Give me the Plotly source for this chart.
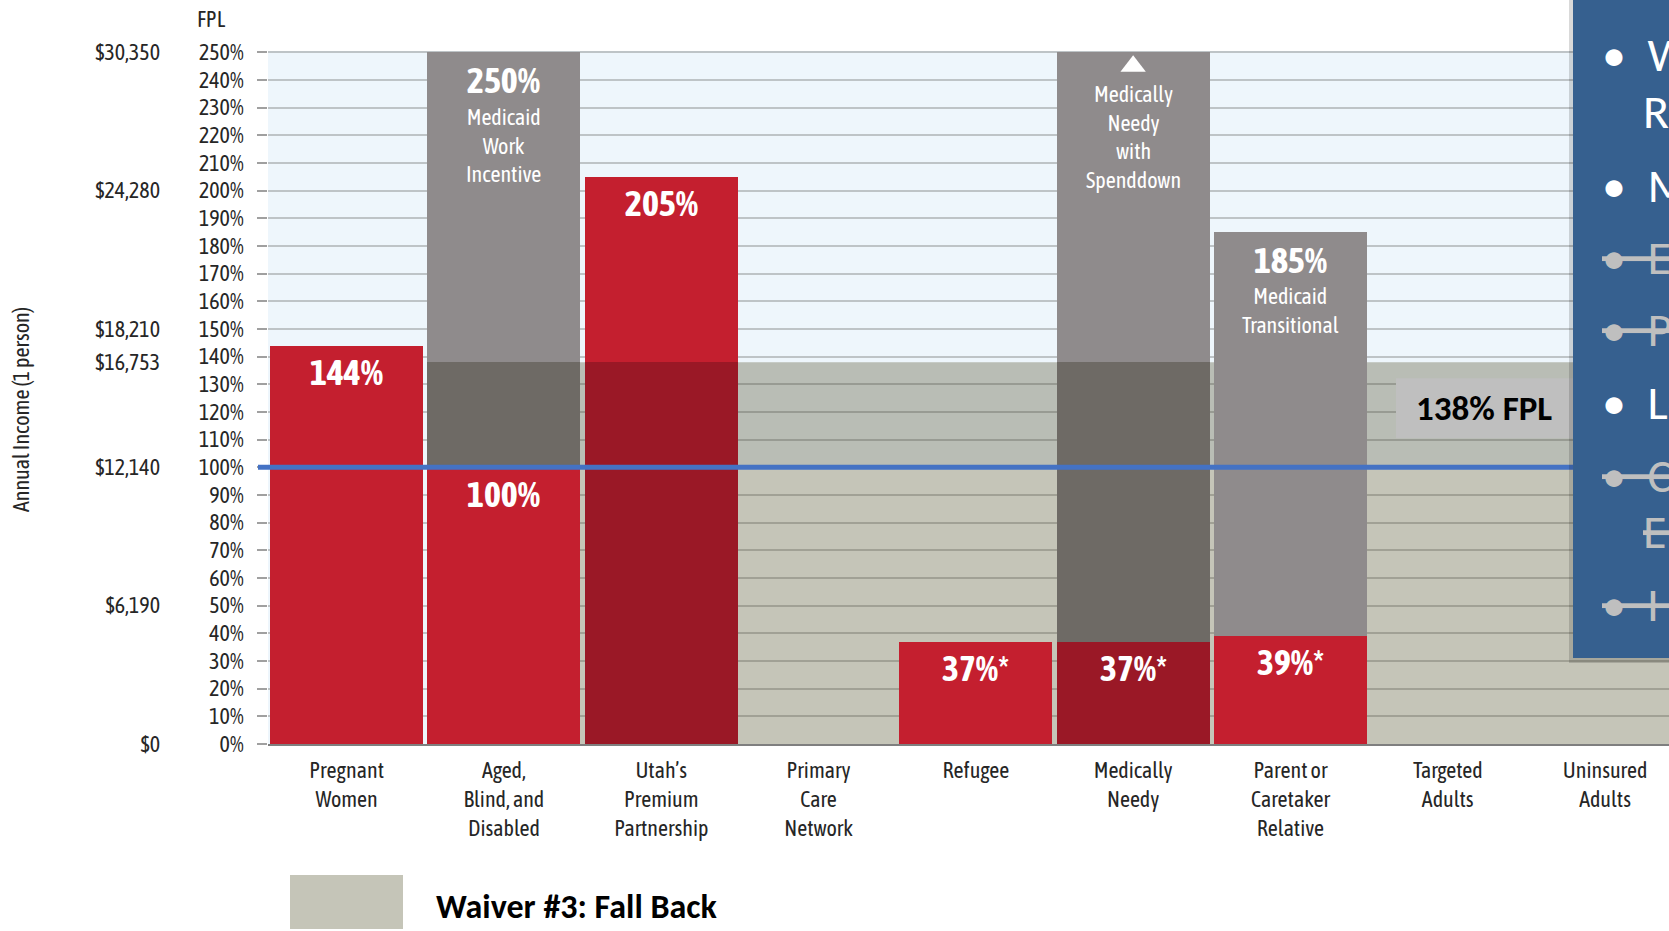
import plotly.graph_objects as go

# ---------------- data ----------------
categories = ["Pregnant<br>Women", "Aged,<br>Blind, and<br>Disabled", "Utah’s<br>Premium<br>Partnership",
              "Primary<br>Care<br>Network", "Refugee", "Medically<br>Needy",
              "Parent or<br>Caretaker<br>Relative", "Targeted<br>Adults", "Uninsured<br>Adults"]
medicaid_pct = [144, 100, 205, 0, 37, 37, 39, 0, 0]        # red bars
extended_pct = [0, 250, 0, 0, 0, 250, 185, 0, 0]           # grey bars
red_labels = ["144%", "100%", "205%", "", "37%*", "37%*", "39%*", "", ""]
gray_labels = ["", "250%", "", "", "", "", "185%", "", ""]
gray_notes = ["", "Medicaid<br>Work<br>Incentive", "", "", "", "Medically<br>Needy<br>with<br>Spenddown",
              "Medicaid<br>Transitional", "", ""]
open_ended = [False, False, False, False, False, True, False, False, False]
shaded_red = [False, False, True, False, False, True, False, False, False]
shaded_gray = [False, True, False, False, False, True, False, False, False]
fallback_pct = 138
fpl_line_pct = 100
fpl_ticks = list(range(0, 260, 10))
income_ticks = [0, 50, 100, 138, 150, 200, 250]
income_labels = ["$0", "$6,190", "$12,140", "$16,753", "$18,210", "$24,280", "$30,350"]
legend_label = "Waiver #3: Fall Back"
fpl_box_label = "138% FPL"
panel_rows = [("•", "W", False), ("", "Re", False), ("•", "M", False), ("•", "En", True),
              ("•", "Pe", True), ("•", "Lo", False), ("•", "Co", True), ("", "El", True), ("•", "He", True)]

# ---------------- styles ----------------
RED = "#C41F2F"
DARK_RED = "#9A1826"
GRAY = "#8F8B8C"
DARK_GRAY = "#6E6A65"
BLUE_BG = "#EEF6FC"
BEIGE = "#C5C5B8"
BEIGE_DARK = "#B9BDB5"
LINE_BLUE = "#4472C4"
PANEL = "#36608F"
NARROW = "Asap Condensed, Barlow Condensed, Archivo Narrow, sans-serif"
CAL = "Carlito, Lato, Open Sans, sans-serif"
TXT = "#262626"

W, H = 1669, 931
L, T, B = 268, 51, 187
PW, PH = W - L, H - T - B
BAR_W = 0.973
n = len(categories)
XMAX = -0.5 + PW / 157.3


def px_x(px):
    return (px - L) / PW


def px_y(py):
    return (H - B - py) / PH


# ---------------- segments ----------------
red_low_h, red_low_c, red_hi_b, red_hi_h = [], [], [], []
gr_low_b, gr_low_h, gr_low_c, gr_hi_b, gr_hi_h = [], [], [], [], []
for i in range(n):
    r, g = medicaid_pct[i], extended_pct[i]
    red_low_h.append(min(r, fallback_pct))
    red_low_c.append(DARK_RED if shaded_red[i] else RED)
    red_hi_b.append(fallback_pct)
    red_hi_h.append(max(r - fallback_pct, 0))
    gr_low_b.append(r)
    gr_low_h.append(max(min(g, fallback_pct) - r, 0) if g > r else 0)
    gr_low_c.append(DARK_GRAY if shaded_gray[i] else GRAY)
    gr_hi_b.append(max(r, fallback_pct))
    gr_hi_h.append(max(g - max(r, fallback_pct), 0))

fig = go.Figure()
common = dict(x=categories, width=BAR_W, marker_line_width=0, hoverinfo="skip", showlegend=False)
fig.add_trace(go.Bar(y=red_low_h, base=[0] * n, marker_color=red_low_c, **common))
fig.add_trace(go.Bar(y=red_hi_h, base=red_hi_b, marker_color=RED, **common))
fig.add_trace(go.Bar(y=gr_low_h, base=gr_low_b, marker_color=gr_low_c, **common))
fig.add_trace(go.Bar(y=gr_hi_h, base=gr_hi_b, marker_color=GRAY, **common))

# open-ended marker (triangle)
tri_x = [categories[i] for i in range(n) if open_ended[i]]
tri_y = [extended_pct[i] - 5 for i in range(n) if open_ended[i]]
fig.add_trace(go.Scatter(x=tri_x, y=tri_y, mode="markers", hoverinfo="skip", showlegend=False,
                         marker=dict(symbol="triangle-up", size=22, color="white", line_width=0)))

# dummy trace for income axis
fig.add_trace(go.Scatter(x=[categories[0]], y=[0], yaxis="y2", mode="markers",
                         marker=dict(opacity=0), hoverinfo="skip", showlegend=False))

annotations = []
for i in range(n):
    if red_labels[i]:
        annotations.append(dict(x=categories[i], y=medicaid_pct[i] - 9.5, text="<b>" + red_labels[i] + "</b>",
                                showarrow=False, xanchor="center", yanchor="middle",
                                font=dict(family=NARROW, size=36, color="white")))
    if gray_labels[i]:
        annotations.append(dict(x=categories[i], y=extended_pct[i] - 10, text="<b>" + gray_labels[i] + "</b>",
                                showarrow=False, xanchor="center", yanchor="middle",
                                font=dict(family=NARROW, size=36, color="white")))
    if gray_notes[i]:
        top = extended_pct[i] - (17.8 if gray_labels[i] else 9.5)
        annotations.append(dict(x=categories[i], y=top, text=gray_notes[i], showarrow=False,
                                xanchor="center", yanchor="top",
                                font=dict(family=NARROW, size=22, color="white")))

# axis titles
annotations.append(dict(xref="paper", yref="paper", x=px_x(211), y=px_y(19), text="FPL", showarrow=False,
                        xanchor="center", yanchor="middle", font=dict(family=NARROW, size=22, color=TXT)))
annotations.append(dict(xref="paper", yref="paper", x=px_x(21), y=px_y(410), text="Annual Income (1 person)",
                        textangle=-90, showarrow=False, xanchor="center", yanchor="middle",
                        font=dict(family=NARROW, size=22, color=TXT)))
# 138% FPL label
annotations.append(dict(xref="paper", yref="y", x=px_x(1484), y=121.5, text="<b>" + fpl_box_label + "</b>",
                        showarrow=False, xanchor="center", yanchor="middle",
                        font=dict(family=CAL, size=35, color="black")))
# legend text
annotations.append(dict(xref="paper", yref="paper", x=px_x(434), y=px_y(906), xanchor="left", yanchor="middle",
                        text="<b>" + legend_label + "</b>", showarrow=False,
                        font=dict(family=CAL, size=34, color="black")))

# blue slide panel text fragments
row_y = [55, 112, 186, 257, 329, 402, 475, 531, 604]
for py, (bullet, word, strike) in zip(row_y, panel_rows):
    col = "#BFBFBF" if strike else "white"
    if bullet:
        t = "•&nbsp;&nbsp;" + word
        x0 = 1600
    else:
        t = word
        x0 = 1641
    if strike:
        t = "<s>" + t + "</s>"
    annotations.append(dict(xref="paper", yref="paper", x=px_x(x0), y=px_y(py), xanchor="left",
                            yanchor="middle", text=t, showarrow=False,
                            font=dict(family=CAL, size=48, color=col)))

shapes = [
    # fall-back background
    dict(type="rect", xref="x", yref="y", x0=1 - BAR_W / 2, x1=n, y0=0, y1=fpl_line_pct,
         fillcolor=BEIGE, line_width=0, layer="below"),
    dict(type="rect", xref="x", yref="y", x0=1 - BAR_W / 2, x1=n, y0=fpl_line_pct, y1=fallback_pct,
         fillcolor=BEIGE_DARK, line_width=0, layer="below"),
    # 138% FPL box
    dict(type="rect", xref="paper", yref="y", x0=px_x(1396), x1=px_x(1600), y0=110.5, y1=132.2,
         fillcolor="#BFBFBF", line_width=0, layer="above"),
    # 100% FPL line
    dict(type="line", xref="paper", yref="y", x0=px_x(258), x1=px_x(1600), y0=fpl_line_pct, y1=fpl_line_pct,
         line=dict(color=LINE_BLUE, width=5), layer="above"),
    # legend swatch
    dict(type="rect", xref="paper", yref="paper", x0=px_x(290), x1=px_x(403), y0=px_y(929), y1=px_y(875),
         fillcolor=BEIGE, line_width=0),
    # panel shadow
    dict(type="rect", xref="paper", yref="paper", x0=px_x(1569), x1=px_x(1680), y0=px_y(663), y1=px_y(-10),
         fillcolor="rgba(0,0,0,0.15)", line_width=0, layer="above"),
    # slide panel
    dict(type="rect", xref="paper", yref="paper", x0=px_x(1573), x1=px_x(1680), y0=px_y(658), y1=px_y(-10),
         fillcolor=PANEL, line_width=0, layer="above"),
]

fig.update_layout(
    width=W, height=H, autosize=False,
    margin=dict(l=L, r=0, t=T, b=B, pad=0),
    paper_bgcolor="white", plot_bgcolor=BLUE_BG,
    barmode="overlay", bargap=0,
    showlegend=False,
    font=dict(family=NARROW, size=22, color=TXT),
    xaxis=dict(range=[-0.5, XMAX], showgrid=False, showline=True, linecolor="#7F7F7F", linewidth=2,
               ticks="", ticklabelstandoff=6, tickfont=dict(family=NARROW, size=22, color=TXT),
               fixedrange=True, zeroline=False),
    yaxis=dict(range=[0, 250.5], tickvals=fpl_ticks, ticktext=[f"{v}%" for v in fpl_ticks],
               showgrid=True, gridcolor="rgba(70,70,60,0.28)", gridwidth=2, zeroline=False,
               ticks="outside", ticklen=10, tickcolor="#A0A0A0", tickwidth=2,
               ticklabelstandoff=9, tickfont=dict(family=NARROW, size=22, color=TXT), fixedrange=True),
    yaxis2=dict(range=[0, 250.5], overlaying="y", anchor="free", position=0, side="left",
                tickvals=income_ticks, ticktext=income_labels, showgrid=False, zeroline=False,
                ticks="", showline=False, ticklabelstandoff=108,
                tickfont=dict(family=NARROW, size=22, color=TXT), fixedrange=True),
    annotations=annotations,
    shapes=shapes,
)

fig.write_html("out.html", config={"displayModeBar": False},
               post_script="document.body.style.margin='0';document.body.style.overflow='hidden';")
